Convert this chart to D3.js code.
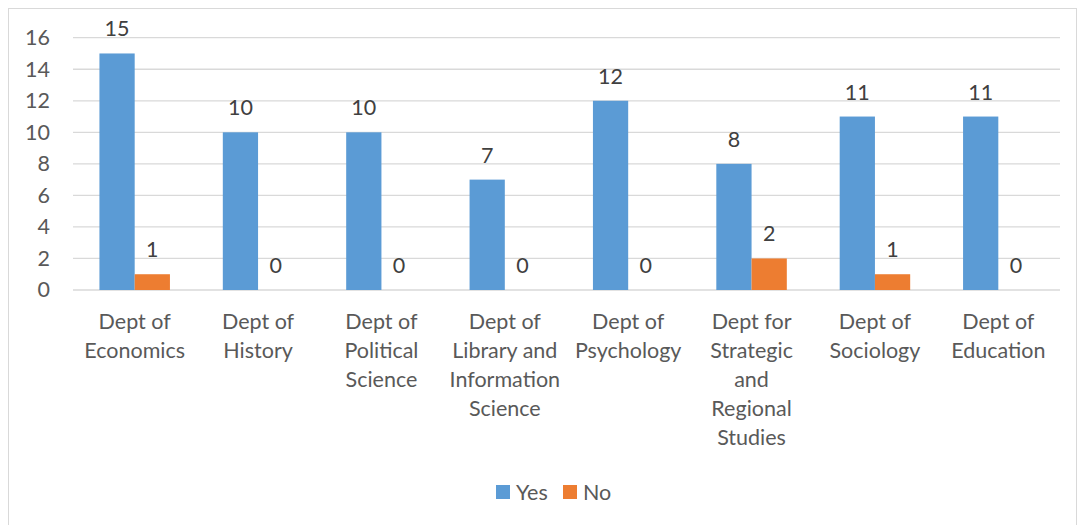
<!DOCTYPE html>
<html>
<head>
<meta charset="utf-8">
<script src="https://cdn.jsdelivr.net/npm/d3@7"></script>
<style>
  body { margin: 0; background: #fff; }
  text { font-family: Lato, "Open Sans", sans-serif; }
</style>
</head>
<body>
<div class="chartHolder"></div>
<script>
// chart data
const categories = [
  ["Dept of", "Economics"],
  ["Dept of", "History"],
  ["Dept of", "Political", "Science"],
  ["Dept of", "Library and", "Information", "Science"],
  ["Dept of", "Psychology"],
  ["Dept for", "Strategic", "and", "Regional", "Studies"],
  ["Dept of", "Sociology"],
  ["Dept of", "Education"]
];
const yesValues = [15, 10, 10, 7, 12, 8, 11, 11];
const noValues = [1, 0, 0, 0, 0, 2, 1, 0];
const seriesNames = ["Yes", "No"];
const seriesColors = ["#5B9BD5", "#ED7D31"];
const yTicks = [0, 2, 4, 6, 8, 10, 12, 14, 16];

const width = 1078;
const height = 525;
const plot = { left: 73, right: 1060, top: 37.7, bottom: 290 };

let svg = d3.select(".chartHolder")
  .append("svg")
  .attr("width", width)
  .attr("height", height);

// outer border
svg.append("rect")
  .attr("x", 8.5).attr("y", 8.5)
  .attr("width", 1068).attr("height", 530)
  .attr("fill", "none")
  .attr("stroke", "#D9D9D9");

let xScale = d3.scaleBand()
  .domain(d3.range(categories.length))
  .range([plot.left, plot.right]);

let yScale = d3.scaleLinear()
  .domain([0, 16])
  .range([plot.bottom, plot.top]);

// gridlines
svg.append("g")
  .selectAll("line")
  .data(yTicks)
  .enter()
  .append("line")
  .attr("x1", plot.left).attr("x2", plot.right)
  .attr("y1", d => yScale(d)).attr("y2", d => yScale(d))
  .attr("stroke", "#D9D9D9")
  .attr("stroke-width", 1.3);

// y axis labels
let yAxis = d3.axisLeft(yScale).tickValues(yTicks).tickSize(0).tickPadding(0);
let gy = svg.append("g")
  .attr("transform", "translate(50,0)")
  .call(yAxis);
gy.select(".domain").remove();
gy.selectAll("text")
  .attr("font-family", "Lato, 'Open Sans', sans-serif")
  .attr("font-size", 21.5)
  .attr("fill", "#595959");

// bars + value labels
let barW = xScale.bandwidth() / 3.5;

[yesValues, noValues].forEach((vals, s) => {
  let bx = i => xScale(i) + xScale.bandwidth() / 2 + (s - 1) * barW;
  svg.append("g")
    .selectAll("rect")
    .data(vals)
    .enter()
    .append("rect")
    .attr("x", (d, i) => bx(i))
    .attr("y", d => yScale(d))
    .attr("width", barW)
    .attr("height", d => yScale(0) - yScale(d))
    .attr("fill", seriesColors[s]);

  svg.append("g")
    .selectAll("text")
    .data(vals)
    .enter()
    .append("text")
    .attr("x", (d, i) => bx(i) + barW / 2)
    .attr("y", d => yScale(d) - 25)
    .attr("text-anchor", "middle")
    .attr("dominant-baseline", "central")
    .attr("font-size", 21.5)
    .attr("fill", "#404040")
    .text(d => d);
});

// category labels
svg.append("g")
  .selectAll("text")
  .data(categories)
  .enter()
  .append("text")
  .attr("text-anchor", "middle")
  .attr("font-size", 21.5)
  .attr("fill", "#595959")
  .each(function (lines, i) {
    d3.select(this).selectAll("tspan")
      .data(lines)
      .enter()
      .append("tspan")
      .attr("x", xScale(i) + xScale.bandwidth() / 2)
      .attr("y", (d, j) => 328.5 + j * 29)
      .text(d => d);
  });

// legend
let legend = svg.append("g");
let legendX = [496, 563];
seriesNames.forEach((name, s) => {
  legend.append("rect")
    .attr("x", legendX[s]).attr("y", 485)
    .attr("width", 14).attr("height", 14)
    .attr("fill", seriesColors[s]);
  legend.append("text")
    .attr("x", legendX[s] + 20).attr("y", 492)
    .attr("dominant-baseline", "central")
    .attr("font-size", 21.5)
    .attr("fill", "#595959")
    .text(name);
});
</script>
</body>
</html>
